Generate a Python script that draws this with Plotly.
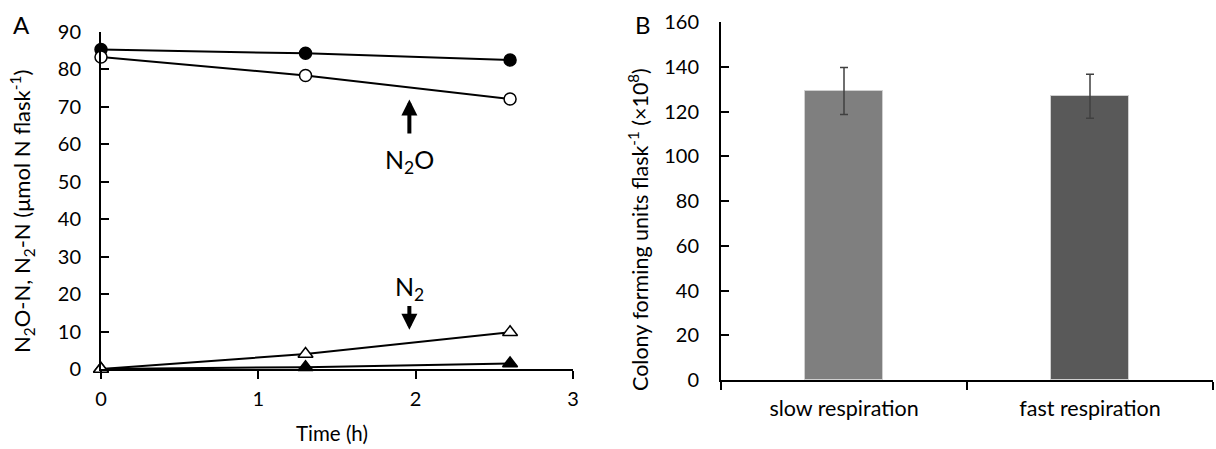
import plotly.graph_objects as go

W, H = 1216, 449

# Panel A data
time_h = [0, 1.3, 2.6]
n2o_filled = [85.3, 84.3, 82.5]
n2o_open = [83.3, 78.4, 72.1]
n2o_open_err = [0.5, 1.2, 0.5]
n2_open = [0.0, 4.0, 9.8]
n2_filled = [0.0, 0.5, 1.5]
a_yticks = [0, 10, 20, 30, 40, 50, 60, 70, 80, 90]
a_xticks = [0, 1, 2, 3]

# Panel B data
categories = ["slow respiration", "fast respiration"]
cfu = [129.2, 126.8]
cfu_err = [10.5, 9.8]
bar_colors = ["#7f7f7f", "#595959"]
b_yticks = [0, 20, 40, 60, 80, 100, 120, 140, 160]

FONT = "Lato"

def px_x(p):
    return p / W

def px_y(p):
    return 1 - p / H

fig = go.Figure()

line_style = dict(color="black", width=2)
fig.add_trace(go.Scatter(x=time_h, y=n2o_filled, mode="lines+markers", line=line_style,
                         marker=dict(symbol="circle", size=12, color="black", line=dict(color="black", width=1.5)),
                         cliponaxis=False, xaxis="x", yaxis="y", showlegend=False))
fig.add_trace(go.Scatter(x=time_h, y=n2o_open, mode="lines+markers", line=line_style,
                         error_y=dict(type="data", array=n2o_open_err, color="black", thickness=1.2, width=3),
                         marker=dict(symbol="circle", size=12, color="white", line=dict(color="black", width=1.5)),
                         cliponaxis=False, xaxis="x", yaxis="y", showlegend=False))
fig.add_trace(go.Scatter(x=time_h, y=n2_filled, mode="lines+markers", line=line_style,
                         marker=dict(symbol="triangle-up", size=13, color="black", line=dict(color="black", width=1.5)),
                         cliponaxis=False, xaxis="x", yaxis="y", showlegend=False))
fig.add_trace(go.Scatter(x=time_h, y=n2_open, mode="lines+markers", line=line_style,
                         marker=dict(symbol="triangle-up", size=13, color="white", line=dict(color="black", width=1.5)),
                         cliponaxis=False, xaxis="x", yaxis="y", showlegend=False))

fig.add_trace(go.Bar(x=categories, y=cfu, marker=dict(color=bar_colors, line=dict(color="#d0d0d0", width=1)),
                     width=0.32,
                     error_y=dict(type="data", array=cfu_err, color="#404040", thickness=1.5, width=4),
                     xaxis="x2", yaxis="y2", showlegend=False))

def axis_common(size):
    return dict(showgrid=False, zeroline=False, showline=True, linecolor="black", linewidth=2,
                automargin=False,
                tickfont=dict(family=FONT, size=size, color="black"), tickcolor="black", ticklen=8, tickwidth=2)

fig.update_layout(
    template="none",
    width=W, height=H, margin=dict(l=0, r=0, t=0, b=0, pad=0),
    plot_bgcolor="white", paper_bgcolor="white",
    font=dict(family=FONT, color="black"),
    xaxis=dict(domain=[px_x(101), px_x(573)], range=[0, 3], tickvals=a_xticks, ticks="outside",
               anchor="y", ticklabelstandoff=3, **axis_common(20)),
    yaxis=dict(domain=[px_y(369), px_y(32)], range=[0, 90], tickvals=a_yticks, ticks="inside",
               anchor="x", ticklabelstandoff=14, **axis_common(20)),
    xaxis2=dict(domain=[px_x(721), px_x(1213)], range=[-0.5, 1.5], ticks="outside", tickson="boundaries",
                anchor="y2", ticklabelstandoff=8, **axis_common(21.5)),
    yaxis2=dict(domain=[px_y(380), px_y(22)], range=[0, 160], tickvals=b_yticks, ticks="inside",
                anchor="x2", ticklabelstandoff=16, **axis_common(20)),
    bargap=0,
)

def txt(text, x, y, size, angle=0):
    return dict(text=text, x=px_x(x), y=px_y(y), xref="paper", yref="paper", showarrow=False,
                xanchor="center", yanchor="middle", textangle=angle,
                font=dict(family=FONT, size=size, color="black"))

ann = [
    txt("A", 21, 24, 24),
    txt("B", 643, 24, 24),
    txt("N<sub>2</sub>O-N, N<sub>2</sub>-N (μmol N flask<sup>-1</sup>)", 22, 212, 22, -90),
    txt("Time (h)", 332, 433, 20.5),
    txt("Colony forming units flask<sup>-1</sup> (×10<sup>8</sup>)", 638, 230, 21.5, -90),
]
# arrows
ann.append(dict(x=1.96, y=72.0, ax=1.96, ay=62.5, xref="x", yref="y", axref="x", ayref="y",
                text="", showarrow=True, arrowhead=2, arrowsize=0.8, arrowwidth=4, arrowcolor="black"))
ann.append(dict(text="N<sub>2</sub>O", x=1.96, y=55.5, xref="x", yref="y", showarrow=False,
                xanchor="center", yanchor="middle", font=dict(family=FONT, size=25, color="black")))
ann.append(dict(x=1.96, y=10.5, ax=1.96, ay=17.2, xref="x", yref="y", axref="x", ayref="y",
                text="", showarrow=True, arrowhead=2, arrowsize=0.8, arrowwidth=4, arrowcolor="black"))
ann.append(dict(text="N<sub>2</sub>", x=1.96, y=21.5, xref="x", yref="y", showarrow=False,
                xanchor="center", yanchor="middle", font=dict(family=FONT, size=25, color="black")))
fig.update_layout(annotations=ann)

fig.write_html("out.html")
